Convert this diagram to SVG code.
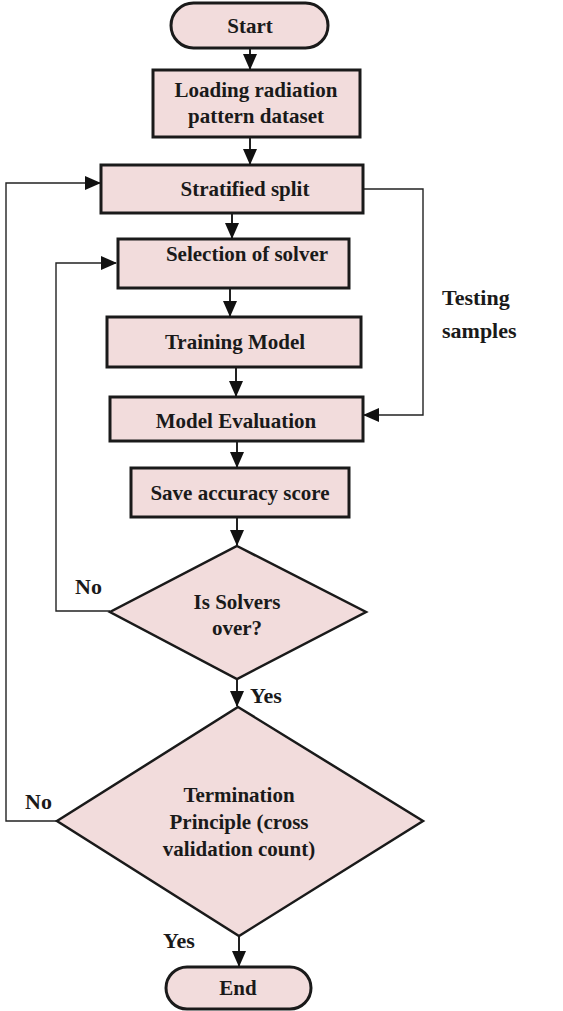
<svg xmlns="http://www.w3.org/2000/svg" width="563" height="1011" viewBox="0 0 563 1011">
  <style>
    .box { fill: #f2dcdc; stroke: #1a1a1a; stroke-width: 3; }
    .dia { fill: #f2dcdc; stroke: #1a1a1a; stroke-width: 2.5; stroke-linejoin: miter; }
    .lbl { font-family: "Liberation Serif", "Times New Roman", serif; font-weight: bold; font-size: 21px; fill: #1a1a1a; text-anchor: middle; }
    .big { font-family: "Liberation Serif", "Times New Roman", serif; font-weight: bold; font-size: 22px; fill: #1a1a1a; }
    .wire { fill: none; stroke: #222; stroke-width: 1.4; }
    .stem { fill: none; stroke: #222; stroke-width: 2; }
  </style>
  <defs>
    <marker id="head" viewBox="0 0 16 14" refX="15" refY="7" markerWidth="16" markerHeight="14" markerUnits="userSpaceOnUse" orient="auto">
      <path d="M0,0 L16,7 L0,14 Z" fill="#111"/>
    </marker>
  </defs>

  <rect width="563" height="1011" fill="#ffffff"/>

  <!-- connectors -->
  <g id="connectors">
    <line class="stem" x1="250" y1="48" x2="250" y2="69" marker-end="url(#head)"/>
    <line class="stem" x1="250" y1="137" x2="250" y2="164" marker-end="url(#head)"/>
    <line class="stem" x1="232" y1="213" x2="232" y2="238" marker-end="url(#head)"/>
    <line class="stem" x1="230" y1="288" x2="230" y2="316" marker-end="url(#head)"/>
    <line class="stem" x1="236" y1="367" x2="236" y2="396" marker-end="url(#head)"/>
    <line class="stem" x1="237" y1="441" x2="237" y2="467" marker-end="url(#head)"/>
    <line class="stem" x1="237" y1="517" x2="237" y2="545" marker-end="url(#head)"/>
    <line class="stem" x1="237" y1="679" x2="237" y2="706" marker-end="url(#head)"/>
    <line class="stem" x1="239" y1="936" x2="239" y2="966" marker-end="url(#head)"/>
    <!-- testing samples path -->
    <polyline class="wire" points="363,189 423,189 423,415 364,415" marker-end="url(#head)"/>
    <!-- solver loop -->
    <polyline class="wire" points="110,611 56,611 56,263 116,263" marker-end="url(#head)"/>
    <!-- cross validation loop -->
    <polyline class="wire" points="57,821 6,821 6,183 100,183" marker-end="url(#head)"/>
  </g>

  <g id="start">
    <rect class="box" x="171" y="3" width="157" height="45" rx="22.5"/>
    <text class="lbl" x="250" y="33">Start</text>
  </g>

  <g id="load">
    <rect class="box" x="153" y="70" width="207" height="67"/>
    <text class="lbl" x="256" y="97">Loading radiation</text>
    <text class="lbl" x="256" y="123">pattern dataset</text>
  </g>

  <g id="split">
    <rect class="box" x="101" y="165" width="262" height="48"/>
    <text class="lbl" x="245" y="196">Stratified split</text>
  </g>

  <g id="solver">
    <rect class="box" x="118" y="239" width="231" height="49"/>
    <text class="lbl" x="247" y="261">Selection of solver</text>
  </g>

  <g id="train">
    <rect class="box" x="107" y="317" width="254" height="50"/>
    <text class="lbl" x="235" y="349">Training Model</text>
  </g>

  <g id="evaluate">
    <rect class="box" x="110" y="397" width="253" height="44"/>
    <text class="lbl" x="236" y="428">Model Evaluation</text>
  </g>

  <g id="save">
    <rect class="box" x="131" y="468" width="218" height="49"/>
    <text class="lbl" x="240" y="500">Save accuracy score</text>
  </g>

  <g id="solvers-over">
    <polygon class="dia" points="237,546 366,612 237,679 110,612"/>
    <text class="lbl" x="237" y="609">Is Solvers</text>
    <text class="lbl" x="237" y="635">over?</text>
  </g>

  <g id="termination">
    <polygon class="dia" points="238,707 423,821 239,936 57,821"/>
    <text class="lbl" x="239" y="802">Termination</text>
    <text class="lbl" x="239" y="829">Principle (cross</text>
    <text class="lbl" x="239" y="856">validation count)</text>
  </g>

  <g id="end">
    <rect class="box" x="166" y="967" width="145" height="42" rx="21"/>
    <text class="lbl" x="238" y="995">End</text>
  </g>

  <!-- branch and edge labels -->
  <g id="labels">
    <text class="big" x="442" y="305">Testing</text>
    <text class="big" x="442" y="338">samples</text>
    <text class="big" x="75" y="594">No</text>
    <text class="big" x="250" y="703">Yes</text>
    <text class="big" x="25" y="809">No</text>
    <text class="big" x="163" y="948">Yes</text>
  </g>
</svg>
